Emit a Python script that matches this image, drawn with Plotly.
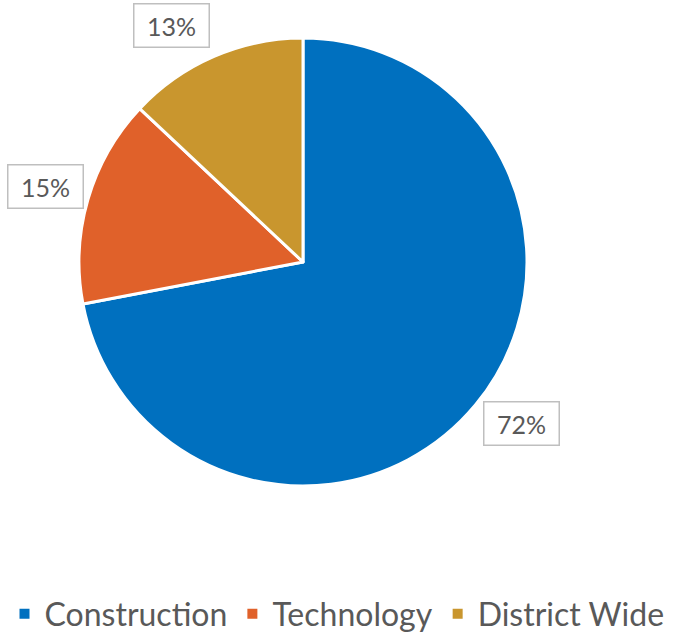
import math
import plotly.graph_objects as go

categories = ["Construction", "Technology", "District Wide"]
values = [72, 15, 13]
colors = ["#0070bf", "#e0612a", "#c9962e"]

W, H = 674, 635
# pie domain in pixels (left, right, top, bottom)
px_l, px_r, px_t, px_b = 79, 527, 38, 486
dom_x = [px_l / W, px_r / W]
dom_y = [1 - px_b / H, 1 - px_t / H]

fig = go.Figure(go.Pie(
    labels=categories,
    values=values,
    marker=dict(colors=colors, line=dict(color="white", width=3)),
    sort=False,
    direction="clockwise",
    rotation=0,
    textinfo="none",
    hoverinfo="label+percent",
    domain=dict(x=dom_x, y=dom_y),
))

# compute label annotations from data angles
cx, cy = (px_l + px_r) / 2, (px_t + px_b) / 2
R = 222
total = sum(values)
cum = 0
annotations = []
for v in values:
    mid = (cum + v / 2) / total * 2 * math.pi
    cum += v
    dx, dy = math.sin(mid), math.cos(mid)  # dy positive = up
    r = 1.05 * R
    x = cx + dx * r
    y = cy - dy * r
    xa = "right" if dx < 0 else "left"
    ya = "bottom" if dy > 0.5 else ("top" if dy < -0.5 else "middle")
    ys = 0 if ya == "bottom" else 10
    xs = 5 if ya == "middle" else 0
    pct = round(v / total * 100)
    annotations.append(dict(
        x=x / W, y=1 - y / H, xref="paper", yref="paper",
        text=f"\u00a0{pct}%\u00a0", showarrow=False, xanchor=xa, yanchor=ya,
        xshift=xs, yshift=ys,
        font=dict(family="Lato", size=25, color="#595959"),
        bgcolor="white", bordercolor="#bfbfbf", borderwidth=1.5, borderpad=6,
    ))

fig.update_layout(
    width=W, height=H,
    margin=dict(l=0, r=0, t=0, b=0, autoexpand=False),
    paper_bgcolor="white",
    showlegend=True,
    legend=dict(
        orientation="h", x=0.5, xanchor="center", y=-0.01, yanchor="bottom",
        font=dict(family="Lato", size=32, color="#595959"),
        itemsizing="constant", itemwidth=30, tracegroupgap=0,
    ),
    annotations=annotations,
)

fig.write_html("out.html")
